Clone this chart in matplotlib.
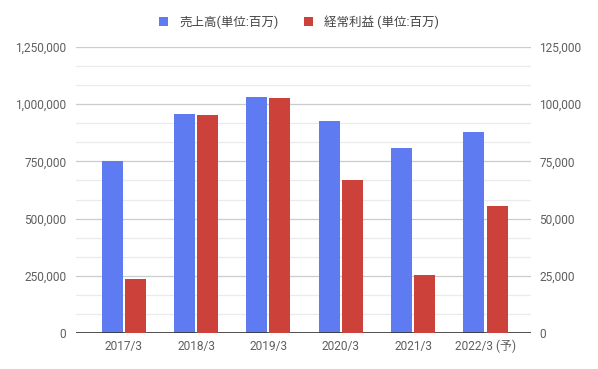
import numpy as np
import matplotlib.pyplot as plt
from matplotlib.ticker import FuncFormatter

plt.rcParams['font.family'] = ['Roboto', 'Noto Sans CJK JP', 'DejaVu Sans']

years = ['2017/3', '2018/3', '2019/3', '2020/3', '2021/3', '2022/3 (予)']
sales = [753000, 959000, 1033000, 925000, 809000, 878000]      # 売上高 (left axis)
profit = [23500, 95300, 102500, 66900, 25400, 55500]           # 経常利益 (right axis)

blue = '#5f7bf2'
red = '#cc4139'
txt = '#5f5f5f'

fig = plt.figure(figsize=(5.98, 3.69), dpi=100)
ax = fig.add_axes([0.127, 0.0976, 0.761, 0.775])
ax2 = ax.twinx()

x = np.arange(len(years))
w = 0.29
off = 0.16
ax.bar(x - off, sales, w, color=blue, zorder=3, label='売上高(単位:百万)')
ax2.bar(x + off, profit, w, color=red, zorder=3, label='経常利益 (単位:百万)')

ax.set_xlim(-0.66, 5.63)
ax.set_ylim(0, 1250000)
ax2.set_ylim(0, 125000)

ax.set_yticks(np.arange(0, 1250001, 250000))
ax.set_yticks(np.arange(0, 1250001, 250000 / 3), minor=True)
ax2.set_yticks(np.arange(0, 125001, 25000))
ax.yaxis.set_major_formatter(FuncFormatter(lambda v, p: f'{v:,.0f}'))
ax2.yaxis.set_major_formatter(FuncFormatter(lambda v, p: f'{v:,.0f}'))

ax.grid(axis='y', which='major', color='#cccccc', linewidth=0.9, zorder=0)
ax.grid(axis='y', which='minor', color='#ebebeb', linewidth=0.9, zorder=0)
ax.set_axisbelow(True)

ax.set_xticks(x)
ax.set_xticklabels(years)

for a in (ax, ax2):
    for s in a.spines.values():
        s.set_visible(False)
    a.tick_params(which='both', length=0, labelsize=8.6, colors=txt)
ax.tick_params(axis='y', pad=7)
ax2.tick_params(axis='y', pad=6)
ax.tick_params(axis='x', pad=5)
ax.axhline(0, color='#333333', linewidth=1.2, zorder=4)

ax2.set_zorder(ax.get_zorder() + 1)
ax2.patch.set_visible(False)

h1, l1 = ax.get_legend_handles_labels()
h2, l2 = ax2.get_legend_handles_labels()
leg = fig.legend(h1 + h2, l1 + l2, loc='center', bbox_to_anchor=(0.5, 0.94), ncol=2,
                 frameon=False, fontsize=9, handlelength=0.75, handleheight=0.75,
                 handletextpad=0.9, columnspacing=2.0)
for t in leg.get_texts():
    t.set_color('#444444')

fig.savefig('out.png', dpi=100)
